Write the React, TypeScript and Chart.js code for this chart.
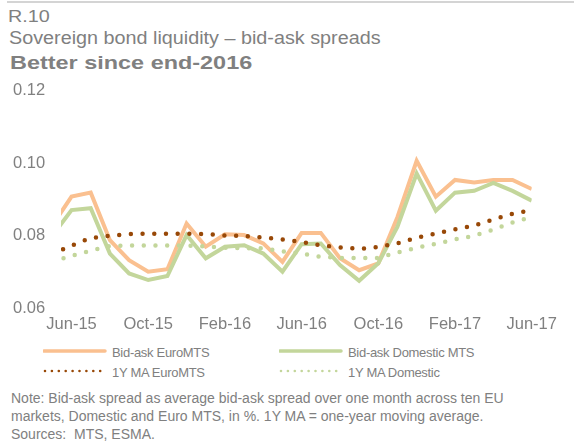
import React, { useEffect, useRef } from "react";
import { Chart, registerables } from "chart.js";

Chart.register(...registerables);

const months = [
  "May-15", "Jun-15", "Jul-15", "Aug-15", "Sep-15", "Oct-15", "Nov-15", "Dec-15",
  "Jan-16", "Feb-16", "Mar-16", "Apr-16", "May-16", "Jun-16", "Jul-16", "Aug-16",
  "Sep-16", "Oct-16", "Nov-16", "Dec-16", "Jan-17", "Feb-17", "Mar-17", "Apr-17",
  "May-17", "Jun-17",
];
const tickMonths = ["Jun-15", "Oct-15", "Feb-16", "Jun-16", "Oct-16", "Feb-17", "Jun-17"];
const yTicks = [0.06, 0.08, 0.1, 0.12];

const bidAskEuroMTS = [
  0.0829, 0.0908, 0.0919, 0.0788, 0.0733, 0.0701, 0.0708, 0.0834, 0.077, 0.0804,
  0.0802, 0.0779, 0.0728, 0.0808, 0.0808, 0.0738, 0.0705, 0.0724, 0.0852, 0.1007,
  0.0908, 0.0954, 0.0947, 0.0954, 0.0954, 0.0929,
];
const bidAskDomesticMTS = [
  0.08, 0.0871, 0.0876, 0.0751, 0.0696, 0.0678, 0.0689, 0.0802, 0.0738, 0.077,
  0.0774, 0.0751, 0.0701, 0.0777, 0.0779, 0.0719, 0.0676, 0.0724, 0.0825, 0.0972,
  0.0869, 0.0919, 0.0924, 0.0946, 0.0924, 0.0897,
];
const maEuroMTS = [
  0.075, 0.0773, 0.0794, 0.08, 0.0805, 0.0806, 0.0806, 0.0806, 0.0805, 0.0801,
  0.08, 0.0795, 0.079, 0.0783, 0.0774, 0.0768, 0.0764, 0.0769, 0.0779, 0.0795,
  0.0806, 0.0818, 0.0828, 0.0845, 0.0861, 0.0871,
];
const maDomestic = [
  0.0728, 0.0745, 0.0759, 0.0772, 0.0773, 0.0773, 0.0773, 0.0773, 0.0771, 0.0767,
  0.0766, 0.0766, 0.0757, 0.0751, 0.0742, 0.0739, 0.0739, 0.0739, 0.0754, 0.0767,
  0.0778, 0.079, 0.08, 0.0817, 0.0837, 0.0852,
];

const ORANGE = "#FAC090";
const GREEN = "#C3D69B";
const BROWN = "#984807";
const LIGHTGREEN = "#C3D69B";
const GREY = "#808080";
const FONT = "'Liberation Sans', Arial, sans-serif";

const toPoints = (arr: number[]) => arr.map((v, i) => ({ x: i, y: v }));

function ChartCanvas() {
  const ref = useRef<HTMLCanvasElement | null>(null);
  useEffect(() => {
    if (!ref.current) return;
    const tickIdx = tickMonths.map((m) => months.indexOf(m));
    const solid = (label: string, data: number[], color: string) => ({
      label,
      data: toPoints(data),
      borderColor: color,
      backgroundColor: color,
      borderWidth: 4,
      pointRadius: 0,
      tension: 0,
      borderJoinStyle: "miter" as const,
    });
    const dotted = (label: string, data: number[], color: string) => ({
      label,
      data: toPoints(data),
      borderColor: color,
      backgroundColor: color,
      borderWidth: 4.5,
      borderDash: [0, 11.7],
      borderCapStyle: "round" as const,
      pointRadius: 0,
      tension: 0,
    });
    const chart = new Chart(ref.current, {
      type: "line",
      data: {
        datasets: [
          dotted("1Y MA Domestic", maDomestic, LIGHTGREEN),
          dotted("1Y MA EuroMTS", maEuroMTS, BROWN),
          solid("Bid-ask Domestic MTS", bidAskDomesticMTS, GREEN),
          solid("Bid-ask EuroMTS", bidAskEuroMTS, ORANGE),
        ],
      },
      options: {
        animation: false,
        responsive: false,
        maintainAspectRatio: false,
        layout: { padding: { left: 13, right: 42.3, top: 20.8, bottom: 0 } },
        plugins: { legend: { display: false }, tooltip: { enabled: false } },
        scales: {
          x: {
            type: "linear",
            min: 0.45,
            max: months.length - 1,
            grid: { display: false, drawTicks: false },
            border: { display: false },
            afterFit: (s: any) => {
              s.height = 31.7;
            },
            afterBuildTicks: (s: any) => {
              s.ticks = tickIdx.map((v) => ({ value: v }));
            },
            ticks: {
              autoSkip: false,
              maxRotation: 0,
              padding: 6,
              color: GREY,
              font: { family: FONT, size: 16.5 },
              callback: (v: any) => months[Math.round(Number(v))],
            },
          },
          y: {
            min: 0.06,
            max: 0.12,
            grid: { display: false, drawTicks: false },
            border: { display: false },
            afterFit: (s: any) => {
              s.width = 48;
            },
            afterBuildTicks: (s: any) => {
              s.ticks = yTicks.map((v) => ({ value: v }));
            },
            ticks: {
              crossAlign: "far",
              color: GREY,
              font: { family: FONT, size: 16.5 },
              callback: (v: any) => Number(v).toFixed(2),
            },
          },
        },
      },
    });
    return () => chart.destroy();
  }, []);
  return (
    <canvas
      ref={ref}
      width={574}
      height={270}
      style={{ position: "absolute", left: 0, top: 70, width: 574, height: 270, display: "block" }}
    />
  );
}

function LegendLine({ x, y, color, dotted }: { x: number; y: number; color: string; dotted?: boolean }) {
  return (
    <svg style={{ position: "absolute", left: x, top: y - 4 }} width={64} height={8}>
      {dotted ? (
        <line x1={2} y1={4} x2={60} y2={4} stroke={color} strokeWidth={2.6} strokeLinecap="round" strokeDasharray="0 6.9" />
      ) : (
        <line x1={1} y1={4} x2={62} y2={4} stroke={color} strokeWidth={3.5} strokeLinecap="round" />
      )}
    </svg>
  );
}

const legendText: React.CSSProperties = {
  position: "absolute",
  fontFamily: FONT,
  fontSize: 13,
  lineHeight: "16px",
  color: GREY,
  whiteSpace: "nowrap",
  letterSpacing: -0.3,
};

export default function App() {
  const title = (extra: React.CSSProperties): React.CSSProperties => ({
    position: "absolute",
    left: 0,
    fontFamily: FONT,
    color: GREY,
    whiteSpace: "nowrap",
    lineHeight: 1,
    transformOrigin: "left top",
    ...extra,
  });
  return (
    <div style={{ position: "absolute", left: 0, top: 0, width: 574, height: 447, background: "#fff", overflow: "hidden" }}>
      <div style={{ position: "absolute", left: 7, top: 1, width: 567, height: 2, background: "#d4d4d4" }} />
      <div style={title({ left: 8, top: 7.5, fontSize: 17.2, transform: "scaleX(1.15)" })}>R.10</div>
      <div style={title({ left: 9, top: 30.2, fontSize: 17.5, transform: "scaleX(1.13)" })}>
        Sovereign bond liquidity – bid-ask spreads
      </div>
      <div style={title({ left: 10, top: 53.5, fontSize: 18.6, fontWeight: "bold", transform: "scaleX(1.26)" })}>
        Better since end-2016
      </div>
      <ChartCanvas />
      <LegendLine x={43} y={350.7} color={ORANGE} />
      <div style={{ ...legendText, left: 112, top: 345 }}>Bid-ask EuroMTS</div>
      <LegendLine x={279} y={350.7} color={GREEN} />
      <div style={{ ...legendText, left: 348, top: 345 }}>Bid-ask Domestic MTS</div>
      <LegendLine x={43} y={370.7} color={BROWN} dotted />
      <div style={{ ...legendText, left: 112, top: 365 }}>1Y MA EuroMTS</div>
      <LegendLine x={279} y={370.7} color={LIGHTGREEN} dotted />
      <div style={{ ...legendText, left: 348, top: 365 }}>1Y MA Domestic</div>
      <div
        style={{
          position: "absolute",
          left: 11,
          top: 389,
          fontFamily: FONT,
          fontSize: 14,
          lineHeight: "18px",
          color: GREY,
          whiteSpace: "nowrap",
        }}
      >
        Note: Bid-ask spread as average bid-ask spread over one month across ten EU
        <br />
        markets, Domestic and Euro MTS, in %. 1Y MA = one-year moving average.
        <br />
        Sources:&nbsp; MTS, ESMA.
      </div>
    </div>
  );
}
